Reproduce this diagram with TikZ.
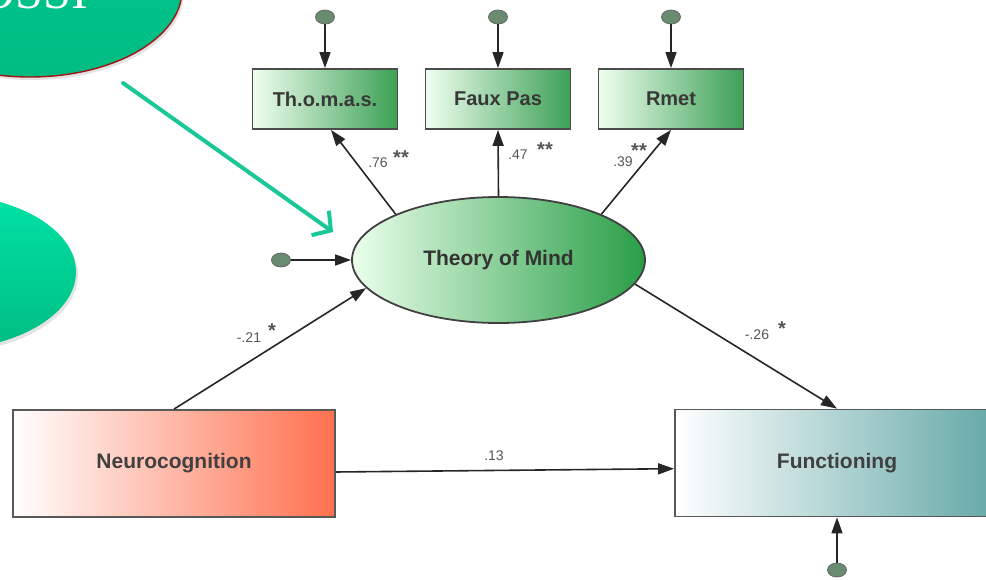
\documentclass[tikz,border=0pt]{standalone}
\usepackage{fontspec}
\setmainfont{Liberation Sans}
\newfontfamily\bubblefont{Liberation Serif}
\usetikzlibrary{arrows.meta, positioning, shapes.geometric, shadows}
\definecolor{bubgreen}{RGB}{0,200,145}
\definecolor{bubgreenlt}{RGB}{0,226,165}
\definecolor{bubgreendk}{RGB}{0,188,130}
\definecolor{bubedge}{RGB}{160,20,20}
\definecolor{pointer}{RGB}{25,200,150}
\definecolor{obsgreen}{RGB}{60,160,85}
\definecolor{latgreen}{RGB}{40,158,70}
\definecolor{neurored}{RGB}{255,112,78}
\definecolor{functeal}{RGB}{98,168,166}
\definecolor{errgray}{RGB}{105,140,112}
\definecolor{coefgray}{RGB}{85,85,85}

\begin{document}
\begin{tikzpicture}[
    x=1pt, y=-1pt,
    bubble/.style  ={ellipse, inner sep=0pt,
                     drop shadow={opacity=0.22, shadow xshift=2pt, shadow yshift=-3pt}},
    obsbox/.style  ={draw=black!70, line width=1.8pt, inner sep=0pt,
                     minimum width=145pt, minimum height=60pt,
                     left color=green!6, right color=obsgreen,
                     font=\fontsize{20}{24}\selectfont\bfseries, text=black!78},
    bigbox/.style  ={draw=black!65, line width=1.8pt, inner sep=0pt,
                     minimum height=107pt,
                     font=\fontsize{21}{24}\selectfont\bfseries, text=black!75},
    latent/.style  ={ellipse, draw=black!75, line width=1.8pt, inner sep=0pt,
                     minimum width=293pt, minimum height=126pt,
                     left color=green!8, right color=latgreen,
                     font=\fontsize{21}{24}\selectfont\bfseries, text=black!80},
    errc/.style    ={ellipse, draw=black!60, line width=0.8pt, fill=errgray,
                     minimum width=19pt, minimum height=14pt, inner sep=0pt},
    reg/.style     ={-{Triangle[length=16pt, width=11pt]}, line width=1.6pt,
                     black!85},
    coef/.style    ={font=\fontsize{14}{16}\selectfont, text=coefgray,
                     inner sep=1pt},
    stars/.style   ={font=\fontsize{20}{20}\selectfont\bfseries, text=coefgray,
                     inner sep=0pt},
  ]
  \useasboundingbox (0,0) rectangle (986,579);

  % ---- speech bubbles (cut by the page edge) ----
  \node[bubble, minimum width=304pt, minimum height=174pt,
        top color=bubgreen, bottom color=bubgreendk,
        draw=bubedge, line width=1.4pt] (bubtop) at (30,-10) {};
  \node[anchor=base east, inner sep=0pt, text=white,
        font=\bubblefont\fontsize{50}{50}\selectfont] (bubtext) at (88,8) {OSSI};
  \node[bubble, minimum width=272pt, minimum height=156pt,
        top color=bubgreenlt, bottom color=bubgreendk] (bubleft) at (-60,272) {};

  % ---- pointer arrow ----
  \coordinate (ptrtail) at (123,83);
  \coordinate (ptrtip)  at (333,232);
  \draw[pointer, line width=4pt, line cap=round,
        -{Straight Barb[length=13pt, width=30pt, line width=4pt]}]
    (ptrtail) -- (ptrtip);

  % ---- indicators (top row) ----
  \node[obsbox] (thomas) at (325,99) {Th.o.m.a.s.};
  \node[obsbox] (faux)   at (498,99) {Faux Pas};
  \node[obsbox] (rmet)   at (671,99) {Rmet};
  \node[errc] (e1) at (325,17) {};
  \node[errc] (e2) at (498,17) {};
  \node[errc] (e3) at (671,17) {};
  \draw[reg] (e1) -- (thomas);
  \draw[reg] (e2) -- (faux);
  \draw[reg] (e3) -- (rmet);

  % ---- latent variable ----
  \node[latent] (tom) at (498.5,260) {Theory of Mind};
  \node[errc] (e4) at (281,260) {};
  \draw[reg] (e4) -- (tom.west);

  % ---- loadings ----
  \draw[reg] (tom.156) -- (thomas.-79);
  \draw[reg] (tom.north) -- (faux.south);
  \draw[reg] (tom.24) -- (rmet.south);
  \node[coef] (l1) at (378,163) {.76};
  \node[stars] (s1) at (401,158) {**};
  \node[coef] (l2) at (518,155) {.47};
  \node[stars] (s2) at (545,150) {**};
  \node[coef] (l3) at (623,162) {.39};
  \node[stars] (s3) at (639,151) {**};

  % ---- observed predictor and outcome ----
  \node[bigbox, minimum width=322pt, left color=white, right color=neurored]
    (neuro) at (174,463.5) {Neurocognition};
  \node[bigbox, minimum width=324pt, left color=white, right color=functeal]
    (func) at (837,463) {Functioning};
  \node[errc] (e5) at (837,570) {};
  \draw[reg] (e5) -- (func.south);

  % ---- structural paths ----
  \draw[reg] (neuro.north) -- (tom.192);
  \draw[reg] (tom.-10) -- (func.north);
  \draw[reg] (neuro.-3) -- (func.182);
  \node[coef] (p1) at (249,338) {-.21};
  \node[stars] (s4) at (272,331) {*};
  \node[coef] (p2) at (757,335) {-.26};
  \node[stars] (s5) at (782,329) {*};
  \node[coef] (p3) at (494,456) {.13};

\end{tikzpicture}
\end{document}
